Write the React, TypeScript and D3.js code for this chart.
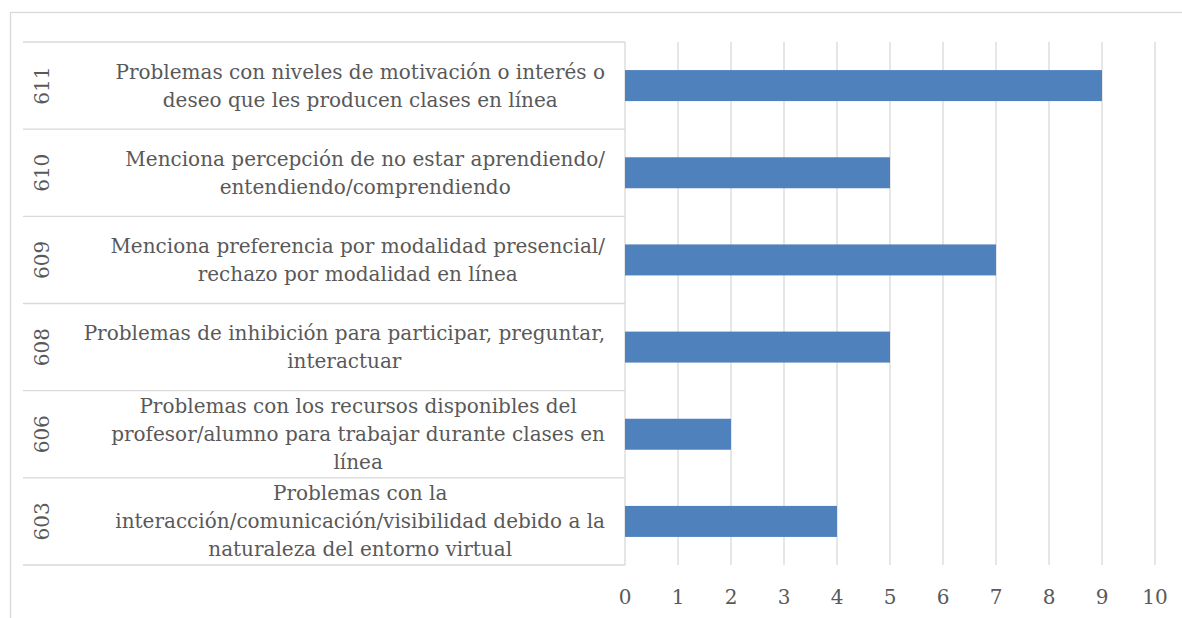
import React from "react";
import * as d3 from "d3";

const codes = ["611", "610", "609", "608", "606", "603"];
const labels: string[][] = [
  ["Problemas con niveles de motivación o interés o", "deseo que les producen clases en línea"],
  ["Menciona percepción de no estar aprendiendo/", "entendiendo/comprendiendo"],
  ["Menciona preferencia por modalidad presencial/", "rechazo por modalidad en línea"],
  ["Problemas de inhibición para participar, preguntar,", "interactuar"],
  ["Problemas con los recursos disponibles del", "profesor/alumno para trabajar durante clases en", "línea"],
  ["Problemas con la", "interacción/comunicación/visibilidad debido a la", "naturaleza del entorno virtual"],
];
const values = [9, 5, 7, 5, 2, 4];
const ticks = [0, 1, 2, 3, 4, 5, 6, 7, 8, 9, 10];

const W = 1182;
const H = 618;
const FONT = "'DejaVu Serif', serif";
const FS = 20;
const TEXT = "#595959";
const GRID = "#D9D9D9";
const BAR = "#4F81BD";

function measure(s: string): number {
  if (typeof document === "undefined") return s.length * 10;
  const c = (measure as any).c || ((measure as any).c = document.createElement("canvas"));
  const ctx = c.getContext("2d");
  ctx.font = `${FS}px 'DejaVu Serif', serif`;
  return ctx.measureText(s).width;
}

export default function App() {
  const x = d3.scaleLinear().domain([0, 10]).range([625, 1155]);
  const y = d3.scaleBand<string>().domain(codes).range([42, 565]).padding(0);
  const step = y.step();
  const barH = 31;
  const lineH = 28;
  const textRight = 605;

  return (
    <svg width={W} height={H} style={{ position: "absolute", left: 0, top: 0 }}>
      <rect x={0} y={0} width={W} height={H} fill="#fff" />
      <rect x={10.5} y={12.5} width={W + 10} height={H + 10} fill="none" stroke={GRID} strokeWidth={1.3} />
      {ticks.map((t) => (
        <line key={"g" + t} x1={x(t)} x2={x(t)} y1={42} y2={565} stroke={GRID} strokeWidth={1.3} />
      ))}
      {codes.map((c) => {
        const y0 = y(c)!;
        return <line key={"s" + c} x1={23} x2={625} y1={y0} y2={y0} stroke={GRID} strokeWidth={1.3} />;
      })}
      <line x1={23} x2={625} y1={565} y2={565} stroke={GRID} strokeWidth={1.3} />
      {codes.map((c, i) => {
        const cy = y(c)! + step / 2;
        return (
          <rect key={"b" + c} x={x(0)} y={cy - barH / 2} width={x(values[i]) - x(0)} height={barH} fill={BAR} />
        );
      })}
      {codes.map((c) => {
        const cy = y(c)! + step / 2;
        return (
          <text
            key={"c" + c}
            transform={`translate(42,${cy}) rotate(-90)`}
            textAnchor="middle"
            dominantBaseline="central"
            fontFamily={FONT}
            fontSize={FS}
            fill={TEXT}
          >
            {c}
          </text>
        );
      })}
      {codes.map((c, i) => {
        const lines = labels[i];
        const cy = y(c)! + step / 2;
        const wMax = Math.max(...lines.map(measure));
        const cx = textRight - wMax / 2;
        const top = cy - ((lines.length - 1) * lineH) / 2;
        return (
          <text key={"l" + c} fontFamily={FONT} fontSize={FS} fill={TEXT} textAnchor="middle">
            {lines.map((ln, j) => (
              <tspan key={j} x={cx} y={top + j * lineH} dominantBaseline="central">
                {ln}
              </tspan>
            ))}
          </text>
        );
      })}
      {ticks.map((t) => (
        <text
          key={"t" + t}
          x={x(t)}
          y={597}
          textAnchor="middle"
          dominantBaseline="central"
          fontFamily={FONT}
          fontSize={FS}
          fill={TEXT}
        >
          {t}
        </text>
      ))}
    </svg>
  );
}
